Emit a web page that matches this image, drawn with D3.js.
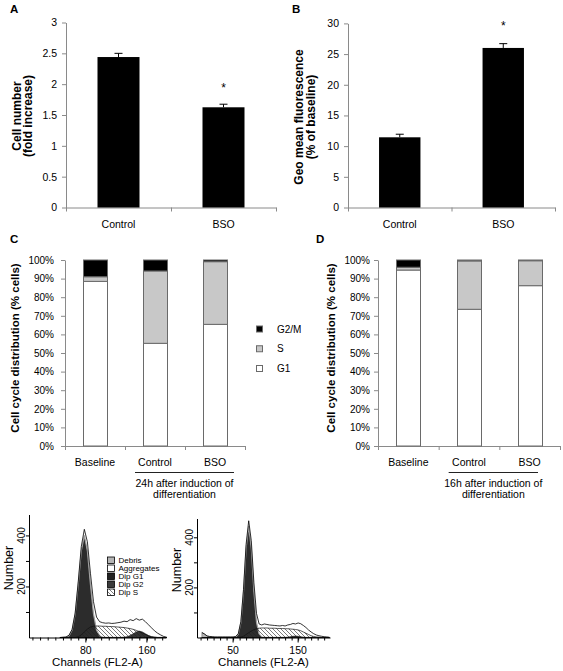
<!DOCTYPE html>
<html><head><meta charset="utf-8">
<script src="https://cdn.jsdelivr.net/npm/d3@7"></script>
<style>
body{margin:0;background:#fff}
svg{display:block}
text{font-family:"Liberation Sans",Arial,Helvetica,sans-serif}
</style>
</head><body>
<svg id="c" width="563" height="671"></svg>
<script>
// ---------------- DATA ----------------
const barCats = ["Control", "BSO"];
const cellNumber = [2.44, 1.625];
const cellNumberErr = [0.06, 0.05];
const cellNumberTicks = [0, 0.5, 1, 1.5, 2, 2.5, 3];
const cellNumberSig = [false, true];

const geoMean = [11.44, 26.0];
const geoMeanErr = [0.5, 0.7];
const geoMeanTicks = [0, 5, 10, 15, 20, 25, 30];
const geoMeanSig = [false, true];

const cycleCats = ["Baseline", "Control", "BSO"];
const phases = ["G1", "S", "G2/M"];
const pctTicks = [0, 10, 20, 30, 40, 50, 60, 70, 80, 90, 100];
const cycleC_G1 = [88.5, 55.2, 65.4];
const cycleC_S = [2.5, 38.9, 33.7];
const cycleC_G2M = [9.0, 5.9, 0.9];
const cycleD_G1 = [94.6, 73.5, 86.2];
const cycleD_S = [1.5, 26.0, 13.4];
const cycleD_G2M = [3.9, 0.5, 0.4];

const histLegend = ["Debris", "Aggregates", "Dip G1", "Dip G2", "Dip S"];

// histogram 1 (24h, left)
const h1Channels = [46,50,54,58,62,66,70,74,78,82,86,90,94,98,102,106,110,114,118,122,126,130,134,138,142,146,150,154,158,162,166,170,174,178,182,186];
const h1Total = [0,1,2,9,32,96,218,356,424,375,252,140,80,62,58,56,57,55,56,58,60,64,62,70,66,74,68,72,62,50,38,26,17,10,4,1];
const h1G1 = [0,0,1,7,29,92,208,339,400,339,208,92,29,7,1,0,0,0,0,0,0,0,0,0,0,0,0,0,0,0,0,0,0,0,0,0];
const h1S = [0,0,0,0,0,0,3,10,22,33,41,44,45,45,44,44,43,43,42,41,40,39,37,35,32,28,23,18,12,7,3,1,0,0,0,0];
const h1G2 = [0,0,0,0,0,0,0,0,0,0,0,0,0,0,0,0,0,0,0,0,0,1,3,8,15,22,25,22,15,8,3,1,0,0,0,0];
const h1Debris = [0,1,1,1,1,1,1,1,1,1,1,1,1,1,1,1,1,1,1,1,1,1,1,1,1,1,1,1,1,1,1,1,1,1,1,0];
const h1XTicks = [80, 160];
const h1YTicks = [200, 400];

// histogram 2 (16h, right)
const h2Channels = [2,6,10,14,18,22,26,30,34,38,42,46,50,54,58,62,66,70,74,78,82,86,90,94,98,102,106,110,114,118,122,126,130,134,138,142,146,150,154,158,162,166,170,174,178,182,186,190,194,198];
const h2Total = [20,14,6,4,3,2,2,2,2,2,2,2,2,4,15,64,192,372,466,386,218,96,54,50,54,52,50,49,48,47,46,48,46,50,52,56,54,58,55,48,40,30,22,15,10,7,5,3,2,1];
const h2G1 = [0,0,0,0,0,0,0,0,0,0,0,0,0,2,13,60,183,356,445,356,183,60,13,2,0,0,0,0,0,0,0,0,0,0,0,0,0,0,0,0,0,0,0,0,0,0,0,0,0,0];
const h2S = [0,0,0,0,0,0,0,0,0,0,0,0,0,0,0,2,5,12,19,26,31,35,37,38,38,38,37,37,37,36,36,36,35,35,34,33,32,30,27,22,17,12,7,4,2,1,0,0,0,0];
const h2G2 = [0,0,0,0,0,0,0,0,0,0,0,0,0,0,0,0,0,0,0,0,0,0,0,0,0,0,0,0,0,0,0,0,0,1,3,5,6,5,3,1,0,0,0,0,0,0,0,0,0,0];
const h2Debris = [20,14,6,4,3,2,2,2,2,2,2,2,2,2,1,1,1,1,1,1,1,1,1,1,1,1,1,1,1,1,1,1,1,1,1,1,1,1,1,1,1,1,1,1,1,1,1,1,1,0];
const h2XTicks = [50, 150];
const h2YTicks = [200, 400];

// ---------------- DRAW ----------------
const svg = d3.select("#c");
const FONT = '"Liberation Sans", Arial, Helvetica, sans-serif';
const AX = "#8a8a8a";

const defs = svg.append("defs");
const pat = defs.append("pattern").attr("id", "hatch").attr("patternUnits", "userSpaceOnUse")
  .attr("width", 4).attr("height", 4);
pat.append("path").attr("d", "M0,0L4,4M-1,3L1,5M3,-1L5,1").attr("stroke", "#222").attr("stroke-width", 0.6);

function styleAxis(g, col) {
  g.attr("font-family", FONT);
  g.select(".domain").attr("stroke", col);
  g.selectAll(".tick line").attr("stroke", col);
  g.selectAll(".tick text").attr("fill", "#000");
}

function panelLetter(txt, x, y) {
  svg.append("text").attr("x", x).attr("y", y).attr("font-size", 11.5).attr("font-weight", "bold").text(txt);
}

function barPanel(o) {
  const g = svg.append("g");
  const x = d3.scaleBand().domain(barCats).range([o.x0, o.x1]);
  const y = d3.scaleLinear().domain([0, o.max]).range([o.yb, o.yt]);
  g.append("g").attr("transform", `translate(${o.x0},0)`)
    .call(d3.axisLeft(y).tickValues(o.ticks).tickFormat(d => String(d)).tickSize(4).tickSizeOuter(0).tickPadding(5))
    .call(s => styleAxis(s, AX)).attr("font-size", 10.5);
  const bx = d3.scaleLinear().domain([0, barCats.length]).range([o.x0, o.x1]);
  g.append("g").attr("transform", `translate(0,${o.yb})`)
    .call(d3.axisBottom(bx).tickValues(d3.range(barCats.length + 1)).tickFormat("").tickSize(4).tickSizeOuter(0))
    .call(s => styleAxis(s, AX));
  const bw = x.bandwidth() * 0.4;
  const cx = c => x(c) + x.bandwidth() / 2;
  g.selectAll("rect.bar").data(barCats).join("rect").attr("class", "bar")
    .attr("x", c => cx(c) - bw / 2).attr("width", bw)
    .attr("y", (c, i) => y(o.values[i])).attr("height", (c, i) => o.yb - y(o.values[i]))
    .attr("fill", "#000");
  barCats.forEach((c, i) => {
    const top = y(o.values[i] + o.errs[i]);
    g.append("line").attr("x1", cx(c)).attr("x2", cx(c)).attr("y1", y(o.values[i])).attr("y2", top).attr("stroke", "#000");
    g.append("line").attr("x1", cx(c) - 4).attr("x2", cx(c) + 4).attr("y1", top).attr("y2", top).attr("stroke", "#000");
    if (o.sig[i]) g.append("text").attr("x", cx(c)).attr("y", o.starY).attr("text-anchor", "middle")
      .attr("font-size", 12).text("*");
    g.append("text").attr("x", cx(c)).attr("y", o.yb + 20.5).attr("text-anchor", "middle").attr("font-size", 10.5).text(c);
  });
  o.title.forEach((t, i) => {
    g.append("text").attr("transform", `translate(${o.titleX[i]},${o.titleY}) rotate(-90)`)
      .attr("text-anchor", "middle").attr("font-size", 12).attr("font-weight", "bold").text(t);
  });
}

panelLetter("A", 10, 13);
barPanel({x0: 66, x1: 276, yb: 207.5, yt: 22.5, max: 3, ticks: cellNumberTicks,
  values: cellNumber, errs: cellNumberErr, sig: cellNumberSig, starY: 92,
  title: ["Cell number", "(fold increase)"], titleX: [20.5, 32], titleY: 116});

panelLetter("B", 292, 13);
barPanel({x0: 348, x1: 555, yb: 207.5, yt: 23.4, max: 30, ticks: geoMeanTicks,
  values: geoMean, errs: geoMeanErr, sig: geoMeanSig, starY: 30,
  title: ["Geo mean fluorescence", "(% of baseline)"], titleX: [303, 315], titleY: 117});

const phaseFill = {"G1": "#ffffff", "S": "#c8c8c8", "G2/M": "#000000"};

function cyclePanel(o) {
  const g = svg.append("g");
  const rows = cycleCats.map((c, i) => ({cat: c, "G1": o.g1[i], "S": o.s[i], "G2/M": o.g2m[i]}));
  const series = d3.stack().keys(phases)(rows);
  const x = d3.scaleBand().domain(cycleCats).range([o.x0, o.x1]);
  const y = d3.scaleLinear().domain([0, 100]).range([446, 260]);
  g.append("g").attr("transform", `translate(${o.x0},0)`)
    .call(d3.axisLeft(y).tickValues(pctTicks).tickFormat(d => d + "%").tickSize(4).tickSizeOuter(0).tickPadding(o.pad))
    .call(s => styleAxis(s, AX)).attr("font-size", 10);
  const bx = d3.scaleLinear().domain([0, cycleCats.length]).range([o.x0, o.x1]);
  g.append("g").attr("transform", `translate(0,446)`)
    .call(d3.axisBottom(bx).tickValues(d3.range(cycleCats.length + 1)).tickFormat("").tickSize(4).tickSizeOuter(0))
    .call(s => styleAxis(s, AX));
  const bw = x.bandwidth() * 0.4;
  series.forEach(s => {
    g.selectAll(null).data(s).join("rect")
      .attr("x", d => Math.round(x(d.data.cat) + x.bandwidth() / 2 - bw / 2) + 0.5)
      .attr("width", Math.round(bw))
      .attr("y", d => y(d[1])).attr("height", d => Math.max(0, y(d[0]) - y(d[1])))
      .attr("fill", phaseFill[s.key]).attr("stroke", "#6a6a6a").attr("stroke-width", 1);
  });
  cycleCats.forEach(c => {
    g.append("text").attr("x", x(c) + x.bandwidth() / 2).attr("y", 466).attr("text-anchor", "middle")
      .attr("font-size", 10.5).text(c);
  });
  const gx0 = x(cycleCats[1]) + 10, gx1 = x(cycleCats[2]) + x.bandwidth() - o.lineInset;
  g.append("line").attr("x1", gx0).attr("x2", gx1).attr("y1", 472.5).attr("y2", 472.5).attr("stroke", "#222");
  o.group.forEach((t, i) => {
    g.append("text").attr("x", (gx0 + gx1) / 2).attr("y", 486.5 + i * 11.5).attr("text-anchor", "middle")
      .attr("font-size", 10.5).text(t);
  });
  g.append("text").attr("transform", `translate(${o.titleX},348) rotate(-90)`)
    .attr("text-anchor", "middle").attr("font-size", 11.5).attr("font-weight", "bold")
    .text("Cell cycle distribution (% cells)");
}

panelLetter("C", 10, 243);
cyclePanel({x0: 65, x1: 245, pad: 7, lineInset: 11, g1: cycleC_G1, s: cycleC_S, g2m: cycleC_G2M,
  group: ["24h after induction of", "differentiation"], titleX: 18.5});
panelLetter("D", 316, 243);
cyclePanel({x0: 378, x1: 560, pad: 4, lineInset: 22, g1: cycleD_G1, s: cycleD_S, g2m: cycleD_G2M,
  group: ["16h after induction of", "differentiation"], titleX: 334.5});

// legend for C/D
const legY = d3.scalePoint().domain(phases.slice().reverse()).range([329, 368.5]);
phases.slice().reverse().forEach(p => {
  svg.append("rect").attr("x", 256.5).attr("y", legY(p) - 3).attr("width", 6).attr("height", 6)
    .attr("fill", phaseFill[p]).attr("stroke", "#6a6a6a");
  svg.append("text").attr("x", 277).attr("y", legY(p) + 3.6).attr("font-size", 10).text(p);
});

// histograms
function histPanel(o) {
  const g = svg.append("g");
  const x = d3.scaleLinear().domain(o.xDom).range([o.x0, o.x1]);
  const y = d3.scaleLinear().domain([0, o.yMax]).range([o.yb, o.yt]);
  const area = vals => d3.area().x((d, i) => x(o.ch[i])).y0(y(0)).y1(d => y(d))(vals);
  const line = vals => d3.line().x((d, i) => x(o.ch[i])).y(d => y(d))(vals);
  g.append("path").attr("d", area(o.total)).attr("fill", "#fff");
  g.append("path").attr("d", area(o.debris)).attr("fill", "#b5b5b5").attr("stroke", "#555").attr("stroke-width", 0.5);
  g.append("path").attr("d", area(o.g1)).attr("fill", "#2c2c2c").attr("stroke", "#a0a0a0").attr("stroke-width", 1.2);
  g.append("path").attr("d", area(o.g2)).attr("fill", "#333").attr("stroke", "#000").attr("stroke-width", 0.5);
  g.append("path").attr("d", area(o.s)).attr("fill", "url(#hatch)").attr("stroke", "#111").attr("stroke-width", 0.7);
  g.append("path").attr("d", line(o.total)).attr("fill", "none").attr("stroke", "#000").attr("stroke-width", 0.8);
  // axes
  const xt = d3.range(Math.ceil(o.xDom[0] / 10) * 10, o.xDom[1], 10);
  g.append("g").attr("transform", `translate(0,${o.yb})`)
    .call(d3.axisBottom(x).tickValues(xt).tickFormat("").tickSize(3).tickSizeOuter(0))
    .call(s => styleAxis(s, "#000"));
  o.xTicks.forEach(v => {
    g.append("line").attr("x1", x(v)).attr("x2", x(v)).attr("y1", o.yb).attr("y2", o.yb + 5).attr("stroke", "#000");
    g.append("text").attr("x", x(v)).attr("y", o.yb + 16.5).attr("text-anchor", "middle").attr("font-size", 10.5).text(v);
  });
  g.append("g").attr("transform", `translate(${o.x0},0)`)
    .call(d3.axisLeft(y).tickValues([100, 200, 300, 400]).tickFormat("").tickSize(3).tickSizeOuter(0))
    .call(s => styleAxis(s, "#000"));
  o.yTicks.forEach(v => {
    g.append("text").attr("transform", `translate(${o.x0 - 4},${y(v)}) rotate(-90)`)
      .attr("text-anchor", "middle").attr("font-size", 10).text(v);
  });
  g.append("text").attr("transform", `translate(${o.x0 - 16.5},${o.numY}) rotate(-90)`)
    .attr("text-anchor", "middle").attr("font-size", 12.5).text("Number");
  g.append("text").attr("x", (o.x0 + o.x1) / 2).attr("y", o.yb + 28.5).attr("text-anchor", "middle")
    .attr("font-size", 11.5).text("Channels (FL2-A)");
}

histPanel({x0: 29, x1: 166, xDom: [5.5, 185], yb: 637.5, yt: 514.5, yMax: 482,
  ch: h1Channels, total: h1Total, g1: h1G1, s: h1S, g2: h1G2, debris: h1Debris,
  xTicks: h1XTicks, yTicks: h1YTicks, numY: 568});
histPanel({x0: 197, x1: 330, xDom: [-5.5, 199], yb: 637.5, yt: 518.5, yMax: 475,
  ch: h2Channels, total: h2Total, g1: h2G1, s: h2S, g2: h2G2, debris: h2Debris,
  xTicks: h2XTicks, yTicks: h2YTicks, numY: 570});

// histogram legend
const hlFill = {"Debris": "#b5b5b5", "Aggregates": "#ffffff", "Dip G1": "#222", "Dip G2": "#3a3a3a", "Dip S": "url(#hatch)"};
const hlY = d3.scalePoint().domain(histLegend).range([560, 592]);
histLegend.forEach(k => {
  svg.append("rect").attr("x", 107.5).attr("y", hlY(k) - 3).attr("width", 7).attr("height", 6.5)
    .attr("fill", hlFill[k]).attr("stroke", "#000").attr("stroke-width", 0.8);
  svg.append("text").attr("x", 118.5).attr("y", hlY(k) + 2.9).attr("font-size", 8).text(k);
});
</script>
</body></html>
